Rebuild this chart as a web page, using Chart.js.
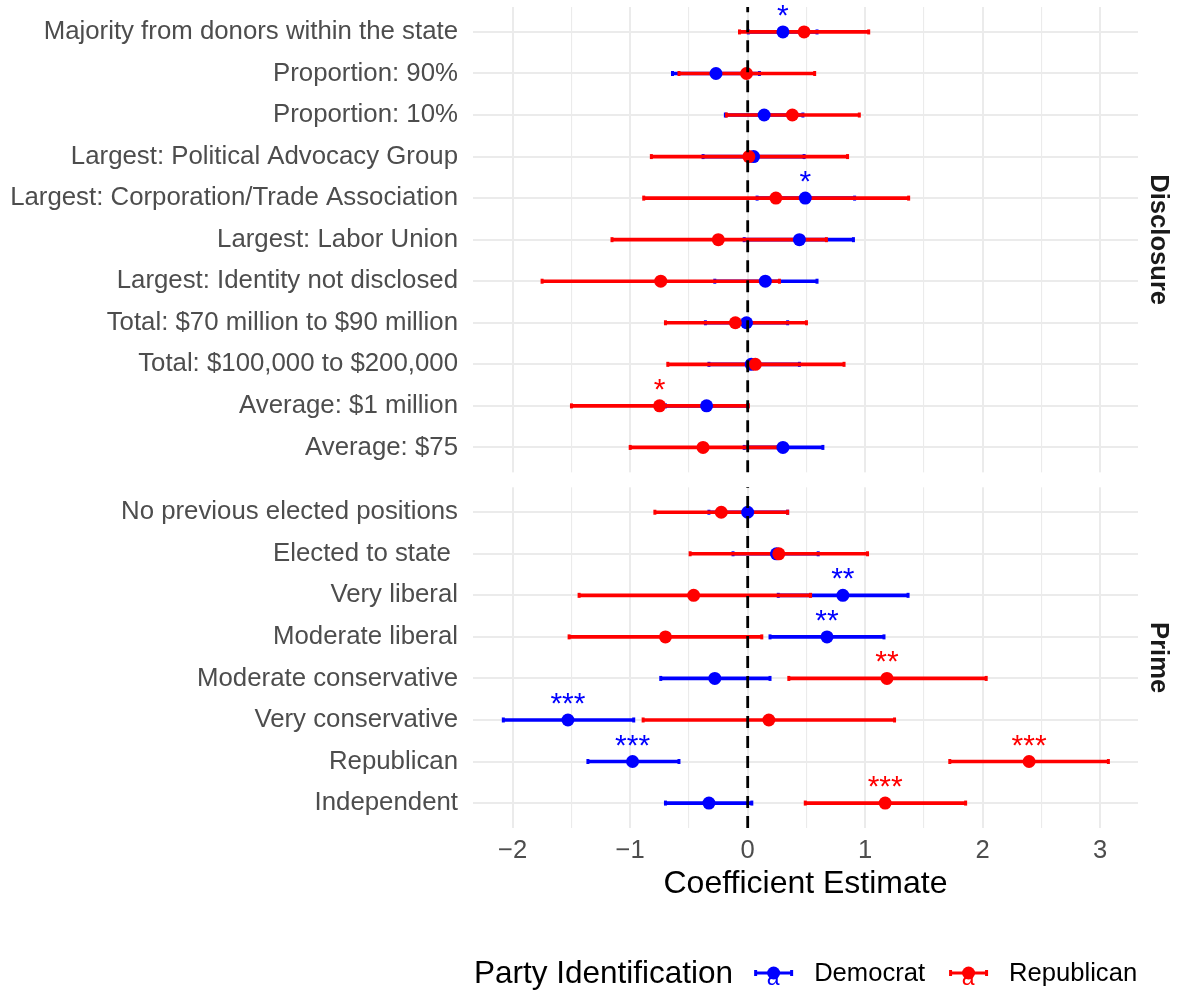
<!DOCTYPE html>
<html>
<head>
<meta charset="utf-8">
<title>Coefficient Estimate</title>
<script src="https://cdn.jsdelivr.net/npm/chart.js@4/dist/chart.umd.min.js"></script>
<style>
html, body { margin:0; padding:0; background:#ffffff; }
canvas { display:block; }
</style>
</head>
<body>
<canvas id="chart" width="1180" height="993"></canvas>
<script>
// ---------------- data ----------------
const panelNames = ['Disclosure', 'Prime'];
const disclosureLabels = [
  'Majority from donors within the state',
  'Proportion: 90%',
  'Proportion: 10%',
  'Largest: Political Advocacy Group',
  'Largest: Corporation/Trade Association',
  'Largest: Labor Union',
  'Largest: Identity not disclosed',
  'Total: $70 million to $90 million',
  'Total: $100,000 to $200,000',
  'Average: $1 million',
  'Average: $75'
];
const primeLabels = [
  'No previous elected positions',
  'Elected to state ',
  'Very liberal',
  'Moderate liberal',
  'Moderate conservative',
  'Very conservative',
  'Republican',
  'Independent'
];
const seriesNames = ['Democrat', 'Republican'];
const legendTitle = 'Party Identification';
const xAxisTitle = 'Coefficient Estimate';
const xTicks = [-2, -1, 0, 1, 2, 3];

// rows: disclosure (11) followed by prime (8)
const demEstimate = [0.30, -0.27, 0.14, 0.05, 0.49, 0.44, 0.15, -0.01, 0.03, -0.35, 0.30,
                     0.00, 0.245, 0.81, 0.675, -0.28, -1.53, -0.98, -0.33];
const demLower    = [0.005, -0.64, -0.19, -0.38, 0.08, -0.03, -0.28, -0.36, -0.33, -0.70, -0.03,
                     -0.33, -0.125, 0.26, 0.19, -0.74, -2.08, -1.36, -0.70];
const demUpper    = [0.59, 0.10, 0.47, 0.48, 0.91, 0.90, 0.59, 0.34, 0.44, 0.00, 0.64,
                     0.34, 0.60, 1.365, 1.16, 0.19, -0.97, -0.585, 0.035];
const repEstimate = [0.48, -0.01, 0.38, 0.01, 0.24, -0.25, -0.74, -0.105, 0.065, -0.75, -0.38,
                     -0.225, 0.265, -0.46, -0.70, 1.185, 0.18, 2.395, 1.17];
const repLower    = [-0.07, -0.585, -0.18, -0.82, -0.885, -1.155, -1.75, -0.70, -0.68, -1.50, -1.00,
                     -0.79, -0.49, -1.435, -1.52, 0.35, -0.89, 1.72, 0.49];
const repUpper    = [1.03, 0.57, 0.95, 0.85, 1.37, 0.67, 0.27, 0.50, 0.82, 0.005, 0.26,
                     0.34, 1.02, 0.535, 0.12, 2.03, 1.25, 3.07, 1.855];
const demStars = ['*', '', '', '', '*', '', '', '', '', '', '',
                  '', '', '**', '**', '', '***', '***', ''];
const repStars = ['', '', '', '', '', '', '', '', '', '*', '',
                  '', '', '', '', '**', '', '***', '***'];

// ---------------- layout helpers ----------------
const FONT = '"Liberation Sans", Arial, Helvetica, sans-serif';
const BLUE = '#0000FF', RED = '#FF0000';
const COLORS = [BLUE, RED];
const EXPAND = 0.6;   // discrete-axis expansion (in rows)
const GAP = 0.36;     // gap between facets (in rows)

const discPos = disclosureLabels.map((_, i) => i);
const primeStart = (disclosureLabels.length - 1) + EXPAND + GAP + EXPAND;
const primePos = primeLabels.map((_, i) => primeStart + i);
const rowPos = discPos.concat(primePos);
const allLabels = disclosureLabels.concat(primeLabels);
const panels = [
  { name: panelNames[0], from: -EXPAND, to: discPos[discPos.length - 1] + EXPAND },
  { name: panelNames[1], from: primeStart - EXPAND, to: primePos[primePos.length - 1] + EXPAND }
];
const minorTicks = xTicks.slice(1).map((v, i) => (v + xTicks[i]) / 2);
const gridVals = xTicks.concat(minorTicks);

const fmt = v => (v < 0 ? '\u2212' + Math.abs(v) : String(v));
const bars = (lo, hi) => rowPos.map((p, i) => ({ y: p, x: [lo[i], hi[i]] }));
const pts = est => rowPos.map((p, i) => ({ x: est[i], y: p }));
const caps = (lo, hi) => rowPos.flatMap((p, i) => [{ x: lo[i], y: p }, { x: hi[i], y: p }]);

// ---------------- plugin: facets, zero line, stars, strips, legend ----------------
const facetPlugin = {
  id: 'facets',
  beforeDatasetsDraw(chart) {
    const { ctx, chartArea: a, scales: { y } } = chart;
    const g1 = y.getPixelForValue(panels[0].to);
    const g2 = y.getPixelForValue(panels[1].from);
    ctx.save();
    ctx.fillStyle = '#ffffff';
    ctx.fillRect(a.left - 1, g1, a.right - a.left + 2, g2 - g1);
    ctx.restore();
  },
  afterDatasetsDraw(chart) {
    const { ctx, scales: { x, y } } = chart;
    // dashed zero line per panel
    const x0 = x.getPixelForValue(0);
    ctx.save();
    ctx.strokeStyle = '#000000';
    ctx.lineWidth = 2.8;
    ctx.setLineDash([12, 8]);
    panels.forEach(p => {
      ctx.beginPath();
      ctx.moveTo(x0, y.getPixelForValue(p.to));
      ctx.lineTo(x0, y.getPixelForValue(p.from));
      ctx.stroke();
    });
    ctx.restore();
    // significance stars
    ctx.save();
    ctx.font = `30px ${FONT}`;
    ctx.textAlign = 'center';
    ctx.textBaseline = 'alphabetic';
    [[demStars, demEstimate, BLUE], [repStars, repEstimate, RED]].forEach(([stars, est, col]) => {
      ctx.fillStyle = col;
      stars.forEach((s, i) => {
        if (!s) return;
        ctx.fillText(s, x.getPixelForValue(est[i]), y.getPixelForValue(rowPos[i]) - 7);
      });
    });
    ctx.restore();
  },
  afterDraw(chart) {
    const { ctx, scales: { y } } = chart;
    // facet strip labels
    ctx.save();
    ctx.font = `bold 25.6px ${FONT}`;
    ctx.fillStyle = '#1A1A1A';
    ctx.textAlign = 'center';
    ctx.textBaseline = 'middle';
    panels.forEach(p => {
      const cy = (y.getPixelForValue(p.from) + y.getPixelForValue(p.to)) / 2;
      ctx.save();
      ctx.translate(1158.5, cy);
      ctx.rotate(Math.PI / 2);
      ctx.fillText(p.name, 0, 0);
      ctx.restore();
    });
    ctx.restore();
    // legend
    const cy = chart.height - 20;
    ctx.save();
    ctx.textAlign = 'left';
    ctx.textBaseline = 'middle';
    ctx.font = `31.5px ${FONT}`;
    ctx.fillStyle = '#000000';
    let lx = 474;
    ctx.fillText(legendTitle, lx, cy + 1.5);
    lx += ctx.measureText(legendTitle).width + 21;
    seriesNames.forEach((name, k) => {
      const col = COLORS[k];
      ctx.strokeStyle = col;
      ctx.fillStyle = col;
      ctx.lineWidth = 3;
      ctx.beginPath();
      ctx.moveTo(lx, cy); ctx.lineTo(lx + 39, cy);
      ctx.moveTo(lx + 1.5, cy - 3); ctx.lineTo(lx + 1.5, cy + 3);
      ctx.moveTo(lx + 37.5, cy - 3); ctx.lineTo(lx + 37.5, cy + 3);
      ctx.stroke();
      ctx.beginPath();
      ctx.arc(lx + 19.5, cy, 6.5, 0, Math.PI * 2);
      ctx.fill();
      ctx.font = `23px ${FONT}`;
      ctx.textAlign = 'center';
      ctx.textBaseline = 'alphabetic';
      ctx.fillText('a', lx + 19, cy + 12);
      lx += 39 + 21;
      ctx.font = `25.6px ${FONT}`;
      ctx.textAlign = 'left';
      ctx.textBaseline = 'middle';
      ctx.fillStyle = '#000000';
      ctx.fillText(name, lx, cy + 1.2);
      lx += ctx.measureText(name).width + 24;
    });
    ctx.restore();
  }
};

// ---------------- chart ----------------
new Chart(document.getElementById('chart'), {
  type: 'scatter',
  data: {
    datasets: [
      { type: 'bar', label: 'Democrat CI', indexAxis: 'y', data: bars(demLower, demUpper),
        backgroundColor: BLUE, borderWidth: 0, barThickness: 3, grouped: false, order: 6 },
      { type: 'scatter', label: 'Democrat CI ends', data: caps(demLower, demUpper),
        pointStyle: 'line', pointRotation: 90, pointRadius: 2.5, pointBorderWidth: 3,
        pointBorderColor: BLUE, order: 5.5 },
      { type: 'bar', label: 'Republican CI', indexAxis: 'y', data: bars(repLower, repUpper),
        backgroundColor: RED, borderWidth: 0, barThickness: 3, grouped: false, order: 5 },
      { type: 'scatter', label: 'Republican CI ends', data: caps(repLower, repUpper),
        pointStyle: 'line', pointRotation: 90, pointRadius: 2.5, pointBorderWidth: 3,
        pointBorderColor: RED, order: 4.5 },
      { type: 'scatter', label: seriesNames[0], data: pts(demEstimate),
        pointRadius: 6.5, pointBorderWidth: 0, pointBackgroundColor: BLUE, order: 2 },
      { type: 'scatter', label: seriesNames[1], data: pts(repEstimate),
        pointRadius: 6.5, pointBorderWidth: 0, pointBackgroundColor: RED, order: 1 }
    ]
  },
  options: {
    responsive: false,
    animation: false,
    devicePixelRatio: 1,
    events: [],
    layout: { padding: { left: 0, top: 6, right: 42, bottom: 93 } },
    plugins: { legend: { display: false }, tooltip: { enabled: false } },
    scales: {
      x: {
        type: 'linear', position: 'bottom',
        min: -2.338, max: 3.322, offset: false,
        afterBuildTicks: s => { s.ticks = gridVals.map(v => ({ value: v })); },
        afterFit: s => { s.paddingLeft = 0; s.paddingRight = 0; },
        ticks: {
          callback: v => (xTicks.includes(v) ? fmt(v) : ''),
          font: { family: FONT, size: 25.6, lineHeight: 1 },
          color: '#4D4D4D', padding: 10, autoSkip: false, maxRotation: 0
        },
        grid: {
          color: '#EBEBEB', drawTicks: false, offset: false,
          lineWidth: c => (c.tick && xTicks.includes(c.tick.value) ? 2 : 1.1)
        },
        border: { display: false },
        title: {
          display: true, text: xAxisTitle, color: '#000000',
          font: { family: FONT, size: 32, lineHeight: 1 },
          padding: { top: -5.6, bottom: 0 }
        }
      },
      y: {
        type: 'linear', position: 'left', reverse: true,
        min: panels[0].from, max: panels[1].to, offset: false,
        afterBuildTicks: s => { s.ticks = rowPos.map(v => ({ value: v })); },
        afterFit: s => { s.width = 473; s.paddingTop = 0; s.paddingBottom = 0; },
        ticks: {
          callback: (v, i) => allLabels[i],
          font: { family: FONT, size: 25.8 },
          color: '#4D4D4D', padding: 15, autoSkip: false
        },
        grid: { color: '#EBEBEB', lineWidth: 2, drawTicks: false, offset: false },
        border: { display: false }
      }
    }
  },
  plugins: [facetPlugin]
});
</script>
</body>
</html>
